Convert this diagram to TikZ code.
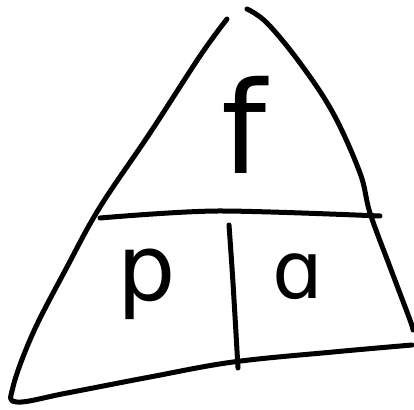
\documentclass[tikz,border=0pt]{standalone}
\usepackage{fontspec}
\setmainfont{DejaVu Sans}

\begin{document}
\begin{tikzpicture}[
          x=1pt, y=-1pt,
          ink/.style={line width=5pt, line cap=round, line join=round, black},
          letter/.style={anchor=base, inner sep=0pt}
        ]
          \useasboundingbox (0,0) rectangle (414,409);
          % sides of the triangle
          \draw[ink] plot[smooth, tension=0.6] coordinates {(227,19) (200,56) (150,133) (100,207) (67,267) (33,333) (13,387) (17,402) (67,393) (150,377) (233,362) (333,352) (412,345)};
          \draw[ink] plot[smooth, tension=0.6] coordinates {(247,9) (267,23) (300,63) (333,113) (360,173) (370,213) (390,267) (410,320) (413,330)};
          % dividers
          \draw[ink] plot[smooth] coordinates {(100,218) (217,211) (380,216)};
          \draw[ink] plot[smooth] coordinates {(229,225) (233,283) (238,368)};
          % letters
          \node[letter, font=\fontsize{128}{128}\selectfont] (f) at (244,173) {f};
          \node[letter, font=\fontsize{92}{92}\selectfont] (p) at (147,300) {p};
          \node[letter, font=\fontsize{80}{80}\selectfont] (a) at (298,298) {ɑ};
\end{tikzpicture}
\end{document}
